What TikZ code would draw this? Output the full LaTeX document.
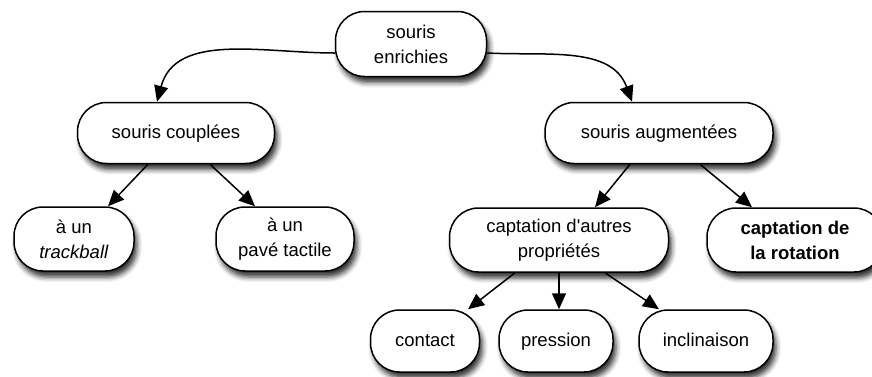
\documentclass[tikz,border=0pt]{standalone}
\usepackage{fontspec}
\setmainfont{Liberation Sans}
\usetikzlibrary{arrows.meta,shadows.blur}
\begin{document}
\begin{tikzpicture}[x=1pt,y=-1pt,
  box/.style={draw=black, line width=1.5pt, fill=white, rounded corners=29pt,
    align=center, font=\fontsize{18.5}{25}\selectfont, inner sep=0pt,
    blur shadow={shadow xshift=3pt, shadow yshift=-6pt, shadow blur radius=5pt, shadow opacity=80}},
  oneline/.style={text height=14pt, text depth=4pt},
  link/.style={line width=1.5pt, -{Triangle[length=16pt,width=14pt]}}]
\useasboundingbox (0,0) rectangle (872,376);

\node[box, minimum width=151pt, minimum height=65pt] (root) at (411,44) {souris\\enrichies};
\node[box, oneline, minimum width=197pt, minimum height=61pt] (coup) at (176,133) {souris couplées};
\node[box, oneline, minimum width=228pt, minimum height=61pt] (aug) at (659,133) {souris augmentées};
\node[box, minimum width=120pt, minimum height=64pt] (track) at (74,239) {à un\\\textit{trackball}};
\node[box, minimum width=138pt, minimum height=64pt] (pave) at (285,239) {à un\\pavé tactile};
\node[box, minimum width=219pt, minimum height=64pt] (capt) at (559,240) {captation d\textquotesingle autres\\propriétés};
\node[box, minimum width=176pt, minimum height=64pt] (rot) at (795,240) {\textbf{captation de}\\\textbf{la rotation}};
\node[box, oneline, minimum width=109pt, minimum height=62pt] (cont) at (425,341) {contact};
\node[box, oneline, minimum width=114pt, minimum height=62pt] (pres) at (556,341) {pression};
\node[box, oneline, minimum width=134pt, minimum height=62pt] (incl) at (706,341) {inclinaison};

\draw[link] ([yshift=-9pt]root.west) to[out=180,in=75] ([xshift=-19pt]coup.north);
\draw[link] ([yshift=-9pt]root.east) to[out=-3,in=110] ([xshift=-27pt]aug.north);
\draw[link] ([xshift=-28pt]coup.south) -- ([xshift=34pt]track.north);
\draw[link] ([xshift=34pt]coup.south) -- ([xshift=-30pt]pave.north);
\draw[link] ([xshift=-29pt]aug.south) -- ([xshift=36pt]capt.north);
\draw[link] ([xshift=41pt]aug.south) -- ([xshift=-43pt]rot.north);
\draw[link] ([xshift=-44pt]capt.south) -- ([xshift=43pt]cont.north);
\draw[link] (capt.south) -- (capt.south |- pres.north);
\draw[link] ([xshift=46pt]capt.south) -- ([xshift=-47pt]incl.north);
\end{tikzpicture}
\end{document}
